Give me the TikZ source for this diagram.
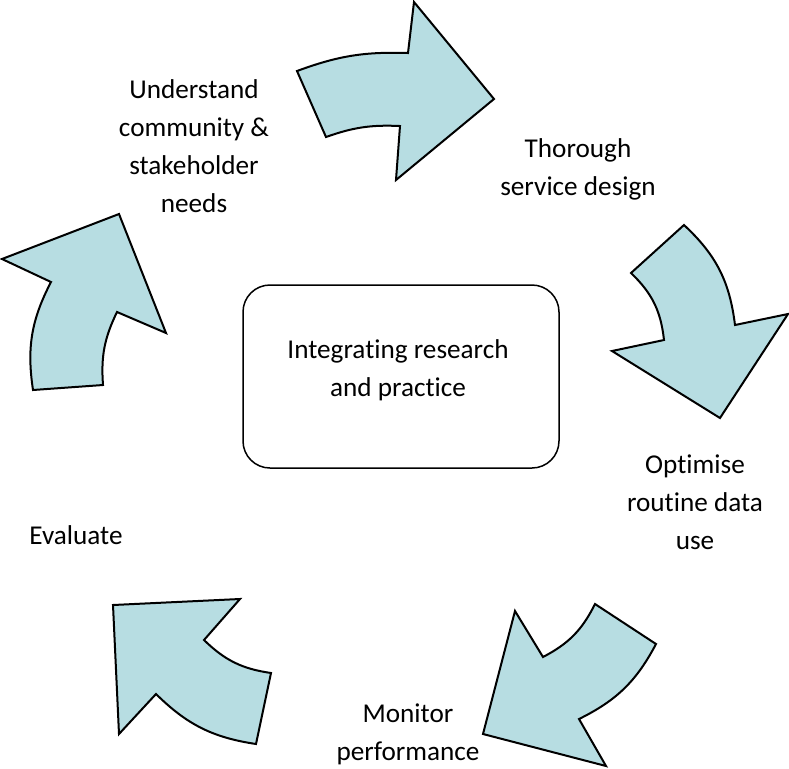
\documentclass[tikz,border=0pt]{standalone}
\usepackage{fontspec}
\setmainfont{Carlito}[Ligatures=NoCommon]
\definecolor{arrowfill}{RGB}{183,221,226}

\begin{document}
\begin{tikzpicture}[x=0.5pt,y=-0.5pt,
  arrowshape/.style={fill=arrowfill,draw=black,line width=1pt},
  steplabel/.style={align=center,font=\fontsize{13.6}{19}\selectfont,inner sep=0pt},
  hubbox/.style={draw,rounded corners=13.5pt,line width=0.75pt,
    minimum width=158pt,minimum height=91.5pt}]
  \useasboundingbox (0,0) rectangle (789,768);
  % curved arrows round the cycle
  \draw[arrowshape] (297,71) -- (326,137) to[bend left=11] (400,126) -- (396,180)
    -- (494,99) -- (414,2) -- (408,53) to[bend right=11] (297,71) -- cycle;
  \draw[arrowshape] (631,273) -- (684,225) to[bend left=20] (735,325) -- (788,314)
    -- (720,418) -- (612,351) -- (664,340) to[bend right=20] (631,273) -- cycle;
  \draw[arrowshape] (595,604) -- (656,644) to[bend left=18] (579,719) -- (606,766)
    -- (483,734) -- (515,611) -- (543,657) to[bend right=18] (595,604) -- cycle;
  \draw[arrowshape] (113,605) -- (240,599) -- (204,640) to[bend right=18] (271,673)
    -- (256,744) to[bend left=18] (156,694) -- (119,734) -- cycle;
  \draw[arrowshape] (2,259) -- (119,214) -- (166,333) -- (117,312) to[bend right=15] (103,385)
    -- (33,390) to[bend left=18] (51,282) -- cycle;
  % hub
  \node[hubbox] (hub) at (401,376.5) {};
  \node[steplabel] (hubtext) at (398,370.5) {Integrating research\\and practice};
  % steps
  \node[steplabel] (understand) at (194,146) {Understand\\community \&\\stakeholder\\needs};
  \node[steplabel] (design) at (578,169) {Thorough\\service design};
  \node[steplabel] (data) at (695,502.5) {Optimise\\routine data\\use};
  \node[steplabel] (monitor) at (408,734) {Monitor\\performance};
  \node[steplabel] (evaluate) at (76,535.5) {Evaluate};
\end{tikzpicture}
\end{document}
